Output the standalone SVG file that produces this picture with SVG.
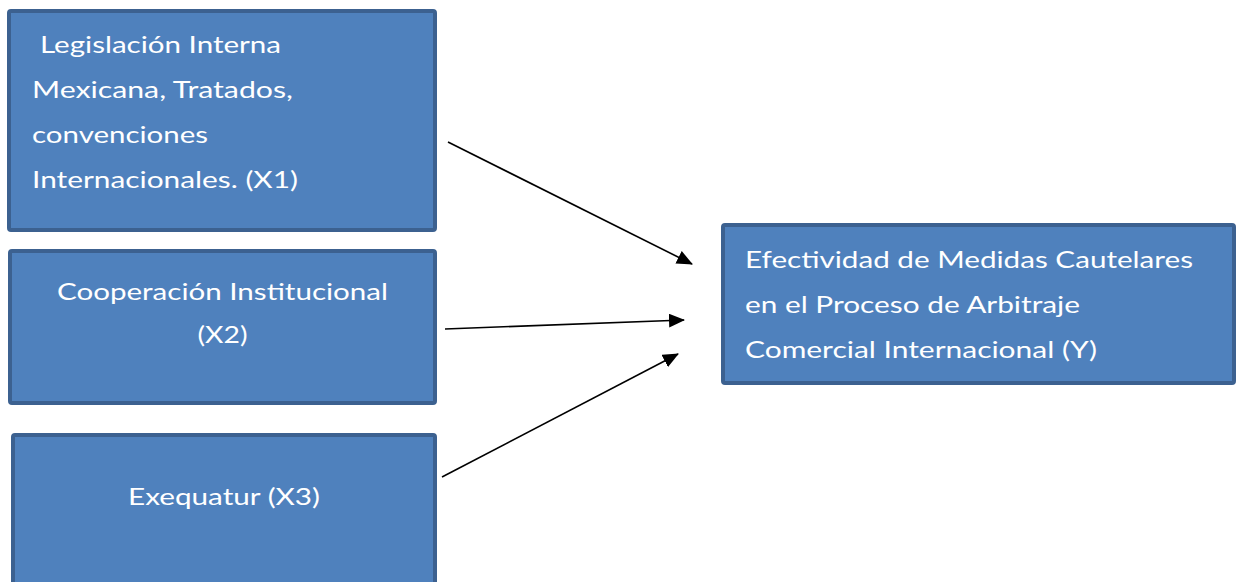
<svg xmlns="http://www.w3.org/2000/svg" width="1237" height="582" viewBox="0 0 1237 582">
<style>
.box{fill:#4F81BD;stroke:#3C6190;stroke-width:4;}
.t{font-family:Lato,"Open Sans","Liberation Sans",sans-serif;font-size:24px;fill:#FFFFFF;}
.c{text-anchor:middle;}
.conn line{stroke:#000;stroke-width:1.6;fill:none;}
</style>
<defs>
<marker id="ah" markerUnits="userSpaceOnUse" markerWidth="16" markerHeight="14" refX="15" refY="7" orient="auto">
<path d="M0,0 L16,7 L0,14 z" fill="#000"/>
</marker>
</defs>
<rect width="1237" height="582" fill="#FFFFFF"/>
<g id="x1">
<rect class="box" x="9" y="11" width="426" height="219" rx="2"/>
<text class="t" x="40" y="53" textLength="241" lengthAdjust="spacingAndGlyphs">Legislación Interna</text>
<text class="t" x="32" y="98" textLength="261" lengthAdjust="spacingAndGlyphs">Mexicana, Tratados,</text>
<text class="t" x="32" y="143" textLength="176" lengthAdjust="spacingAndGlyphs">convenciones</text>
<text class="t" x="32" y="188" textLength="266" lengthAdjust="spacingAndGlyphs">Internacionales. (X1)</text>
</g>
<g id="x2">
<rect class="box" x="10" y="251" width="425" height="152" rx="2"/>
<text class="t c" x="222.5" y="300" textLength="331" lengthAdjust="spacingAndGlyphs">Cooperación Institucional</text>
<text class="t c" x="222.5" y="343" textLength="50" lengthAdjust="spacingAndGlyphs">(X2)</text>
</g>
<g id="x3">
<rect class="box" x="13" y="435" width="422" height="160" rx="2"/>
<text class="t c" x="224" y="505" textLength="192" lengthAdjust="spacingAndGlyphs">Exequatur (X3)</text>
</g>
<g id="y">
<rect class="box" x="723" y="225" width="511" height="158" rx="2"/>
<text class="t" x="745" y="268" textLength="448" lengthAdjust="spacingAndGlyphs">Efectividad de Medidas Cautelares</text>
<text class="t" x="745" y="313" textLength="335" lengthAdjust="spacingAndGlyphs">en el Proceso de Arbitraje</text>
<text class="t" x="745" y="358" textLength="352" lengthAdjust="spacingAndGlyphs">Comercial Internacional (Y)</text>
</g>
<g id="connectors" class="conn">
<line x1="448" y1="142" x2="692" y2="264" marker-end="url(#ah)"/>
<line x1="445" y1="329" x2="684" y2="320" marker-end="url(#ah)"/>
<line x1="442" y1="477" x2="678" y2="354" marker-end="url(#ah)"/>
</g>
</svg>
